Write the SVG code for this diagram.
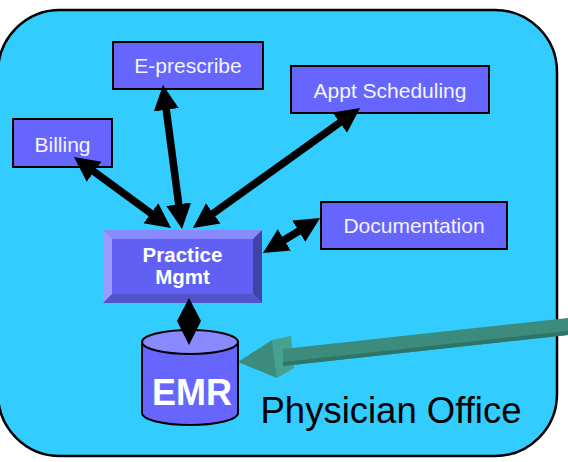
<svg xmlns="http://www.w3.org/2000/svg" width="568" height="462" viewBox="0 0 568 462">
<defs>
<style>
.box{fill:#6666FF;stroke:#000;stroke-width:2}
.lbl{font-family:"Liberation Sans",Arial,sans-serif;font-size:21px;fill:#F4F4FF;text-anchor:middle}
.bold{font-family:"Liberation Sans",Arial,sans-serif;font-weight:bold;fill:#FFFFFF;text-anchor:middle}
.conn{stroke:#000;stroke-width:7.5;fill:none;marker-start:url(#ah);marker-end:url(#ah)}
</style>
<marker id="ah" markerUnits="userSpaceOnUse" markerWidth="30" markerHeight="28" viewBox="0 -14 30 28" refX="5" refY="0" orient="auto-start-reverse">
<path d="M0,-12.5 L25,0 L0,12.5 Z" fill="#000"/>
</marker>
</defs>
<rect x="-2" y="10" width="559" height="446" rx="62" ry="62" fill="#33CCFF" stroke="#000" stroke-width="2.5"/>
<text x="391" y="423" font-family="'Liberation Sans',Arial,sans-serif" font-size="36.5" fill="#000" text-anchor="middle">Physician Office</text>

<g id="billing">
<rect class="box" x="13" y="119" width="99" height="48"/>
<text class="lbl" x="62.5" y="152">Billing</text>
</g>
<g id="eprescribe">
<rect class="box" x="113" y="42" width="150" height="47"/>
<text class="lbl" x="188" y="73">E-prescribe</text>
</g>
<g id="appt">
<rect class="box" x="291" y="66" width="198" height="47"/>
<text class="lbl" x="390" y="98">Appt Scheduling</text>
</g>
<g id="documentation">
<rect class="box" x="321" y="202" width="186" height="47"/>
<text class="lbl" x="414" y="233">Documentation</text>
</g>
<g id="practice">
<polygon points="103,230 262,230 253,239 112,239" fill="#8A8AFF"/>
<polygon points="103,230 112,239 112,294 103,303" fill="#9C9CFF"/>
<polygon points="103,303 112,294 253,294 262,303" fill="#5252CC"/>
<polygon points="262,230 262,303 253,294 253,239" fill="#4242A8"/>
<rect x="112" y="239" width="141" height="55" fill="#6060F4"/>
<text class="bold" x="182.5" y="262" font-size="20.5">Practice</text>
<text class="bold" x="182.5" y="284" font-size="20.5">Mgmt</text>
</g>
<g id="emr">
<path d="M142,342 L142,413 A48,12 0 0 0 238,413 L238,342 Z" fill="#6666FF" stroke="#000" stroke-width="2"/>
<ellipse cx="190" cy="342" rx="48" ry="12" fill="#8888FF" stroke="#000" stroke-width="2"/>
<text class="bold" x="192" y="405" font-size="36">EMR</text>
</g>

<g id="connectors">
<line class="conn" x1="90.1" y1="168.8" x2="154.9" y2="216.2"/>
<line class="conn" x1="165.6" y1="104.8" x2="179.4" y2="209.2"/>
<line class="conn" x1="343.8" y1="119.7" x2="209.2" y2="216.3"/>
<line class="conn" x1="303" y1="228.5" x2="280" y2="242.5"/>
<polygon points="189,298 201,321 189,345 177,321" fill="#000"/>
<g id="external-arrow">
<polygon points="272,340 291,336 294,368 277,378" fill="#48A08E"/>
<polygon points="238,362 272,340 277,378" fill="#3D8B7C"/>
<polygon points="283,349 568,318 568,335 283,366" fill="#3D8B7C"/>
<polygon points="283,362 568,331 568,335 283,366" fill="#2E7568"/>
</g>
</g>
</svg>
